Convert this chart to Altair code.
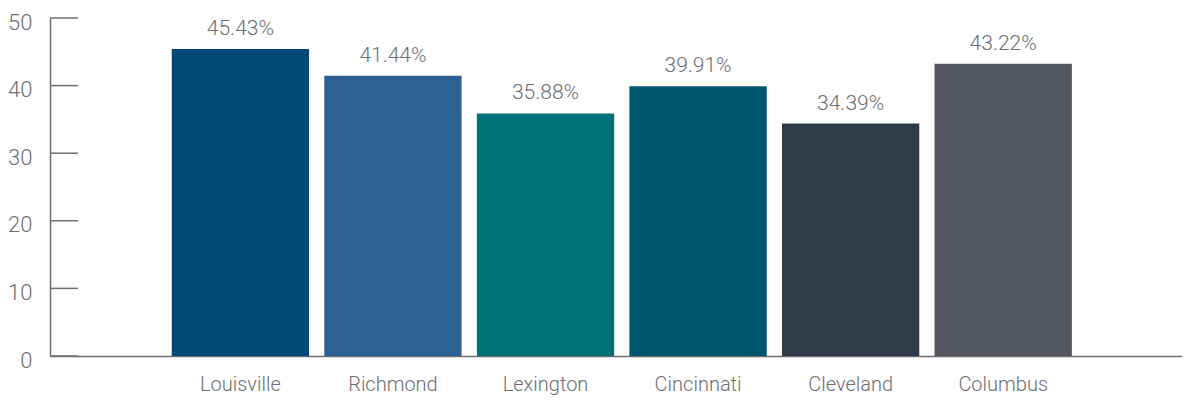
import altair as alt
import pandas as pd

cities = ["Louisville", "Richmond", "Lexington", "Cincinnati", "Cleveland", "Columbus"]
values = [45.43, 41.44, 35.88, 39.91, 34.39, 43.22]
colors = ["#004876", "#2f6094", "#007176", "#00566e", "#2f3c48", "#53565e"]
y_ticks = [0, 10, 20, 30, 40, 50]

df = pd.DataFrame({"city": cities, "value": values,
                   "label": [f"{v:.2f}%" for v in values]})
ticks_df = pd.DataFrame({"t": y_ticks})

FONT = "Roboto"
GRAY = "#6d6e71"

x_enc = alt.X("city:N", sort=cities,
              scale=alt.Scale(paddingInner=0.1, paddingOuter=0.76, align=0.525),
              axis=alt.Axis(title=None, labelAngle=0, ticks=False, domainColor=GRAY,
                            domainWidth=1.5, labelFontSize=20, labelColor=GRAY,
                            labelPadding=18, labelFont=FONT, labelFontWeight=300))
y_enc = alt.Y("value:Q", scale=alt.Scale(domain=[0, 50], nice=False),
              axis=alt.Axis(title=None, values=y_ticks, ticks=False, grid=False,
                            domainColor=GRAY, domainWidth=1.5, labelFontSize=22,
                            labelColor=GRAY, labelPadding=18, labelOffset=4,
                            labelFont=FONT, labelFontWeight=300))

bars = alt.Chart(df).mark_bar().encode(
    x=x_enc, y=y_enc,
    color=alt.Color("city:N", scale=alt.Scale(domain=cities, range=colors), legend=None),
)
text = alt.Chart(df).mark_text(dy=-14, baseline="alphabetic", fontSize=21, font=FONT,
                               fontWeight=300, color=GRAY).encode(
    x=alt.X("city:N", sort=cities), y="value:Q", text="label:N")
ticks = alt.Chart(ticks_df).mark_rule(color=GRAY, strokeWidth=1.5).encode(
    y="t:Q", x=alt.value(0), x2=alt.value(28))

chart = alt.layer(bars, text, ticks).properties(
    width=1132, height=338,
    autosize=alt.AutoSizeParams(type="none"),
    padding={"left": 42, "top": 10, "right": 0, "bottom": 39},
).configure_view(stroke=None)

chart.save("out.html", embed_options={"renderer": "svg", "actions": False})
